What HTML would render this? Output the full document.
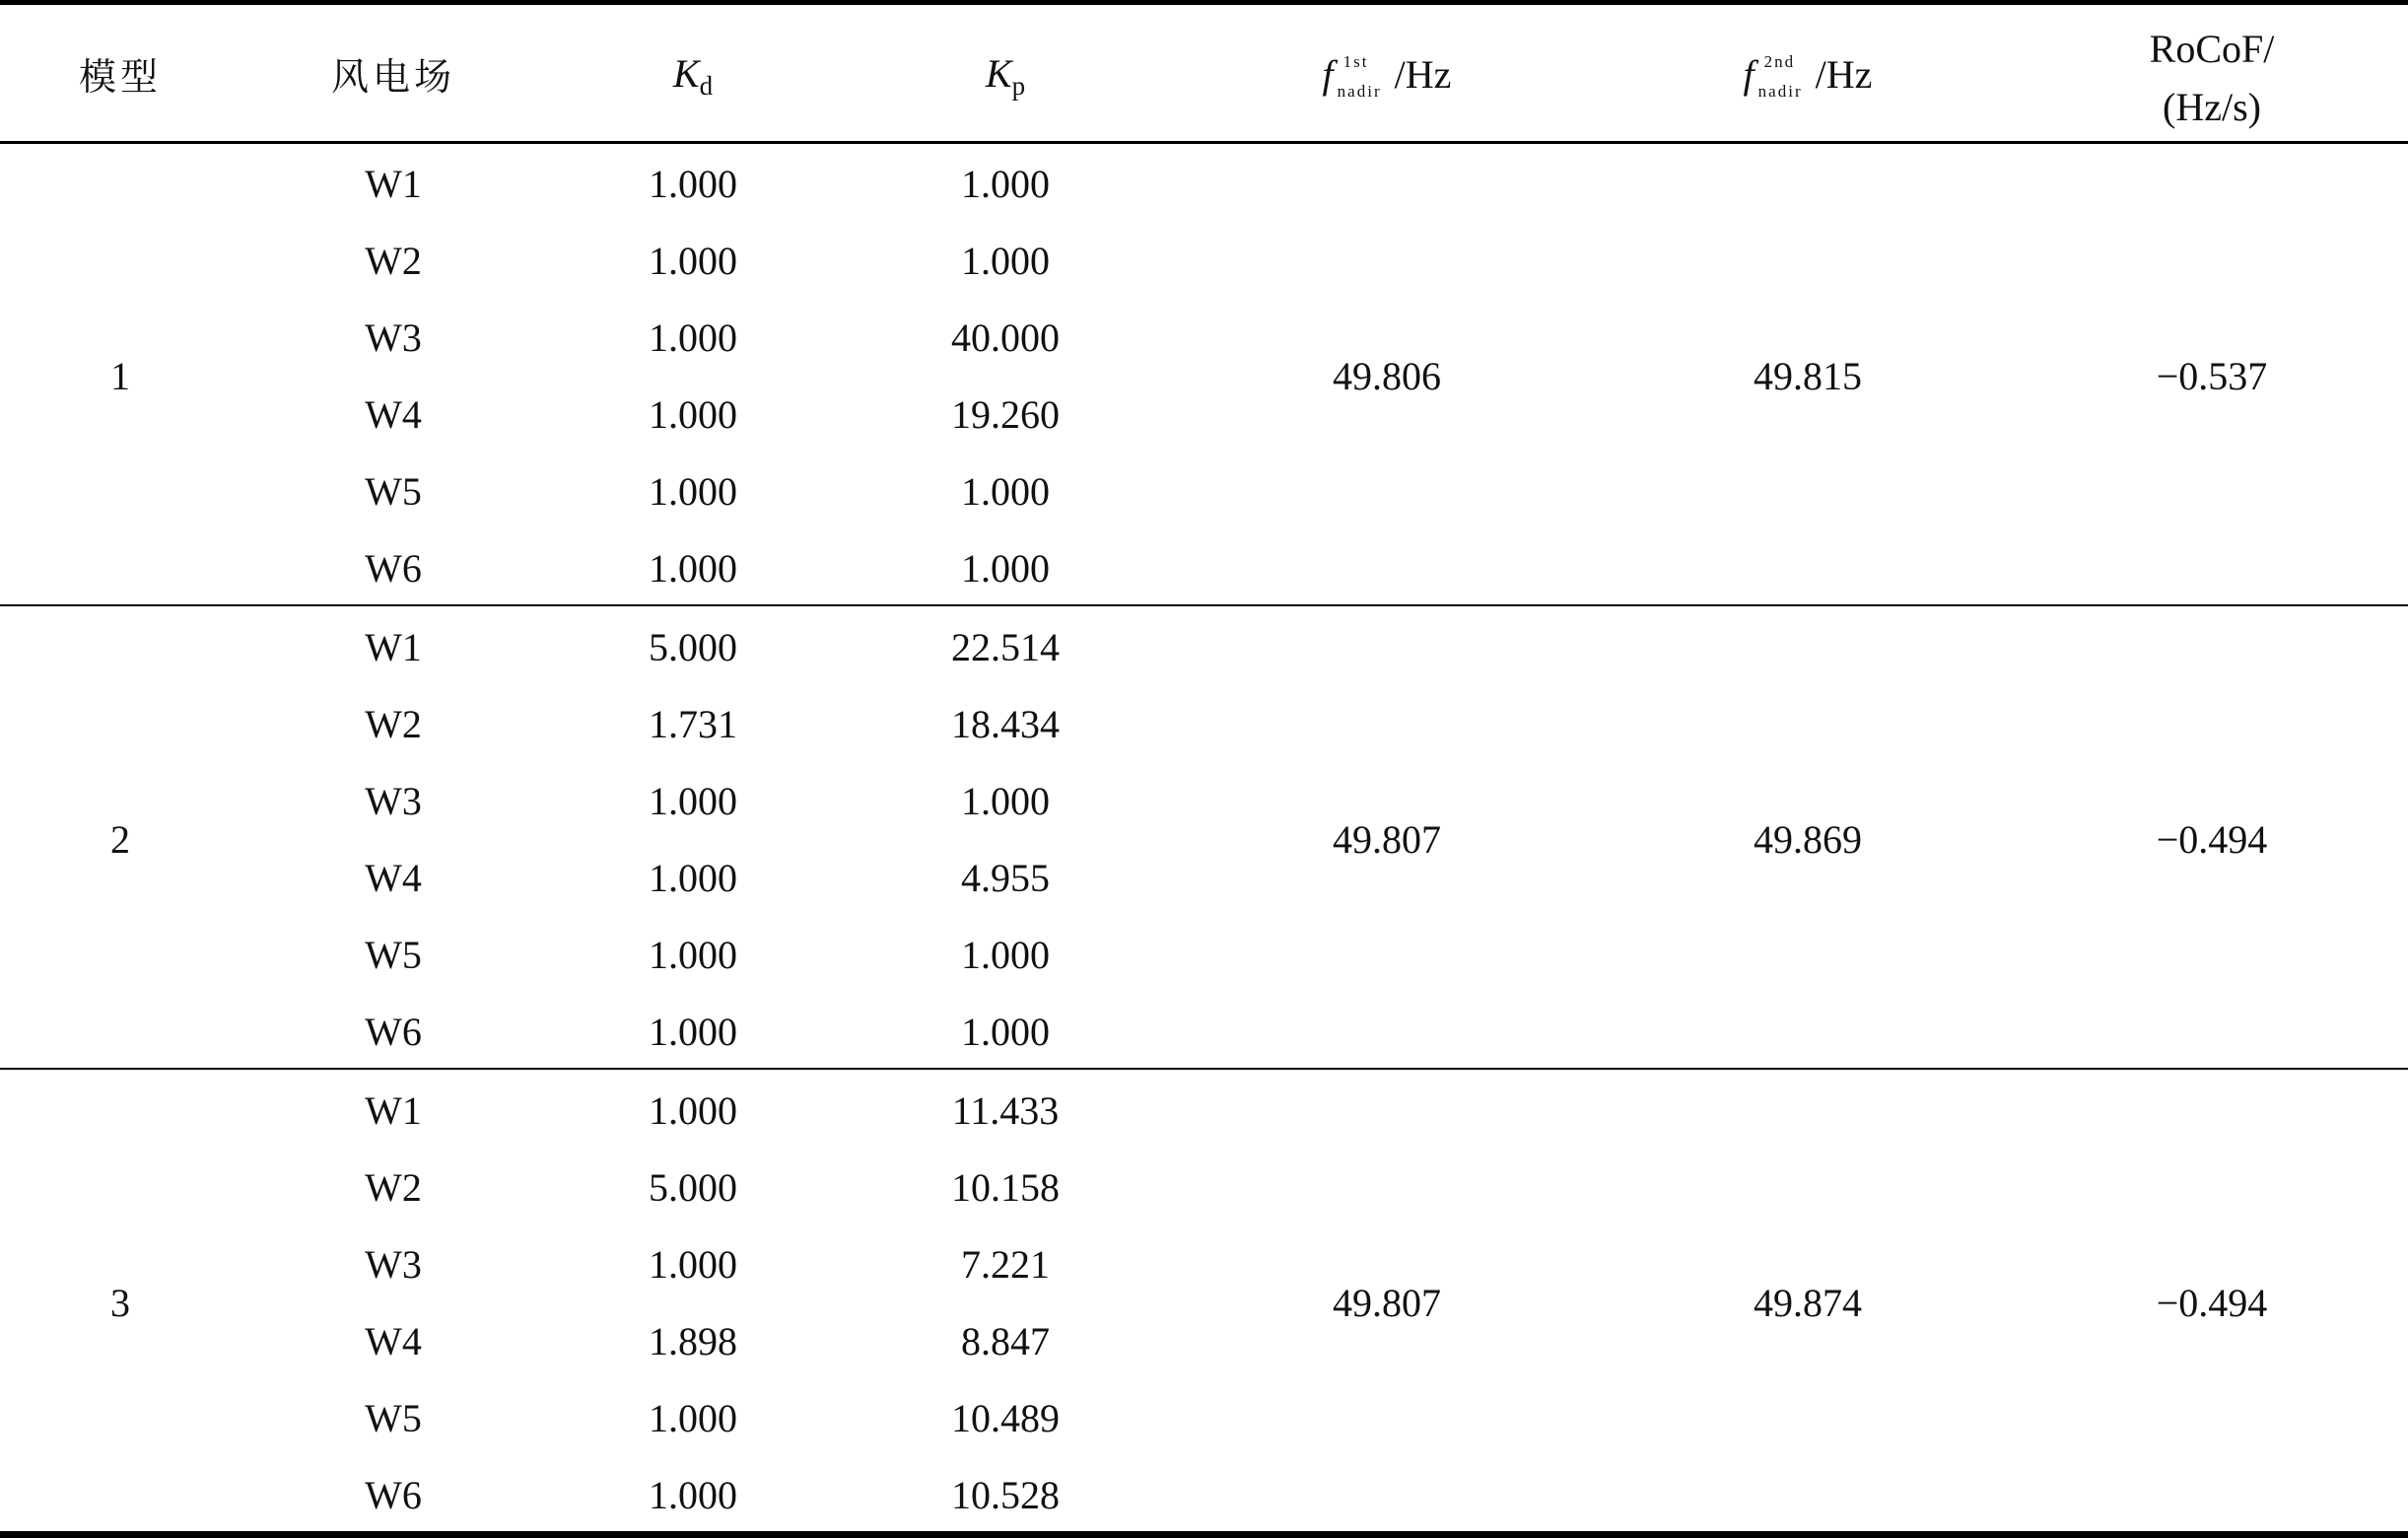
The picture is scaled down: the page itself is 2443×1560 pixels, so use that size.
<!DOCTYPE html>
<html><head><meta charset="utf-8"><style>
html,body{margin:0;padding:0;background:#fff;}
body{width:2443px;height:1560px;position:relative;overflow:hidden;font-family:"Liberation Serif","Noto Serif CJK SC",serif;color:#111;}
.t{position:absolute;font-size:40px;line-height:1;white-space:nowrap;transform:translate(-50%,-50%);}
.cj{font-family:"Noto Serif CJK SC","Liberation Serif",serif;font-size:38px;letter-spacing:4px;}
.l{position:absolute;left:0;width:2443px;background:#000;}
i{font-style:italic;}
.sub{font-size:27px;vertical-align:-8px;}
.ss{display:inline-block;position:relative;width:62px;height:40px;vertical-align:middle;}
.ss span{position:absolute;left:4px;font-size:17px;letter-spacing:2px;}
</style></head><body>
<div class="l" style="top:0;height:5px"></div>
<div class="l" style="top:143px;height:3px"></div>
<div class="l" style="top:613px;height:2px"></div>
<div class="l" style="top:1083px;height:2px"></div>
<div class="l" style="top:1553px;height:7px"></div>

<div class="t cj" style="left:122px;top:75px">模型</div>
<div class="t cj" style="left:399px;top:75px">风电场</div>
<div class="t" style="left:703px;top:78px"><i>K</i><span class="sub">d</span></div>
<div class="t" style="left:1020px;top:78px"><i>K</i><span class="sub">p</span></div>
<div class="t" style="left:1407px;top:78px"><i>f</i><span class="ss"><span style="top:-6px;left:10px">1st</span><span style="top:24px">nadir</span></span>/Hz</div>
<div class="t" style="left:1834px;top:78px"><i>f</i><span class="ss"><span style="top:-6px;left:10px">2nd</span><span style="top:24px">nadir</span></span>/Hz</div>
<div class="t" style="left:2244px;top:50px">RoCoF/</div>
<div class="t" style="left:2244px;top:109px">(Hz/s)</div>

<div id="rows"></div>
<script>
var g=[
 {m:"1",s:187,kd:["1.000","1.000","1.000","1.000","1.000","1.000"],kp:["1.000","1.000","40.000","19.260","1.000","1.000"],f1:"49.806",f2:"49.815",r:"−0.537"},
 {m:"2",s:657,kd:["5.000","1.731","1.000","1.000","1.000","1.000"],kp:["22.514","18.434","1.000","4.955","1.000","1.000"],f1:"49.807",f2:"49.869",r:"−0.494"},
 {m:"3",s:1127,kd:["1.000","5.000","1.000","1.898","1.000","1.000"],kp:["11.433","10.158","7.221","8.847","10.489","10.528"],f1:"49.807",f2:"49.874",r:"−0.494"}];
var h="";
function t(x,y,s){h+='<div class="t" style="left:'+x+'px;top:'+y+'px">'+s+'</div>';}
g.forEach(function(o){
 for(var i=0;i<6;i++){var y=o.s+i*78;t(399,y,"W"+(i+1));t(703,y,o.kd[i]);t(1020,y,o.kp[i]);}
 var c=o.s+195;t(122,c,o.m);t(1407,c,o.f1);t(1834,c,o.f2);t(2244,c,o.r);
});
document.getElementById("rows").innerHTML=h;
</script>
</body></html>
